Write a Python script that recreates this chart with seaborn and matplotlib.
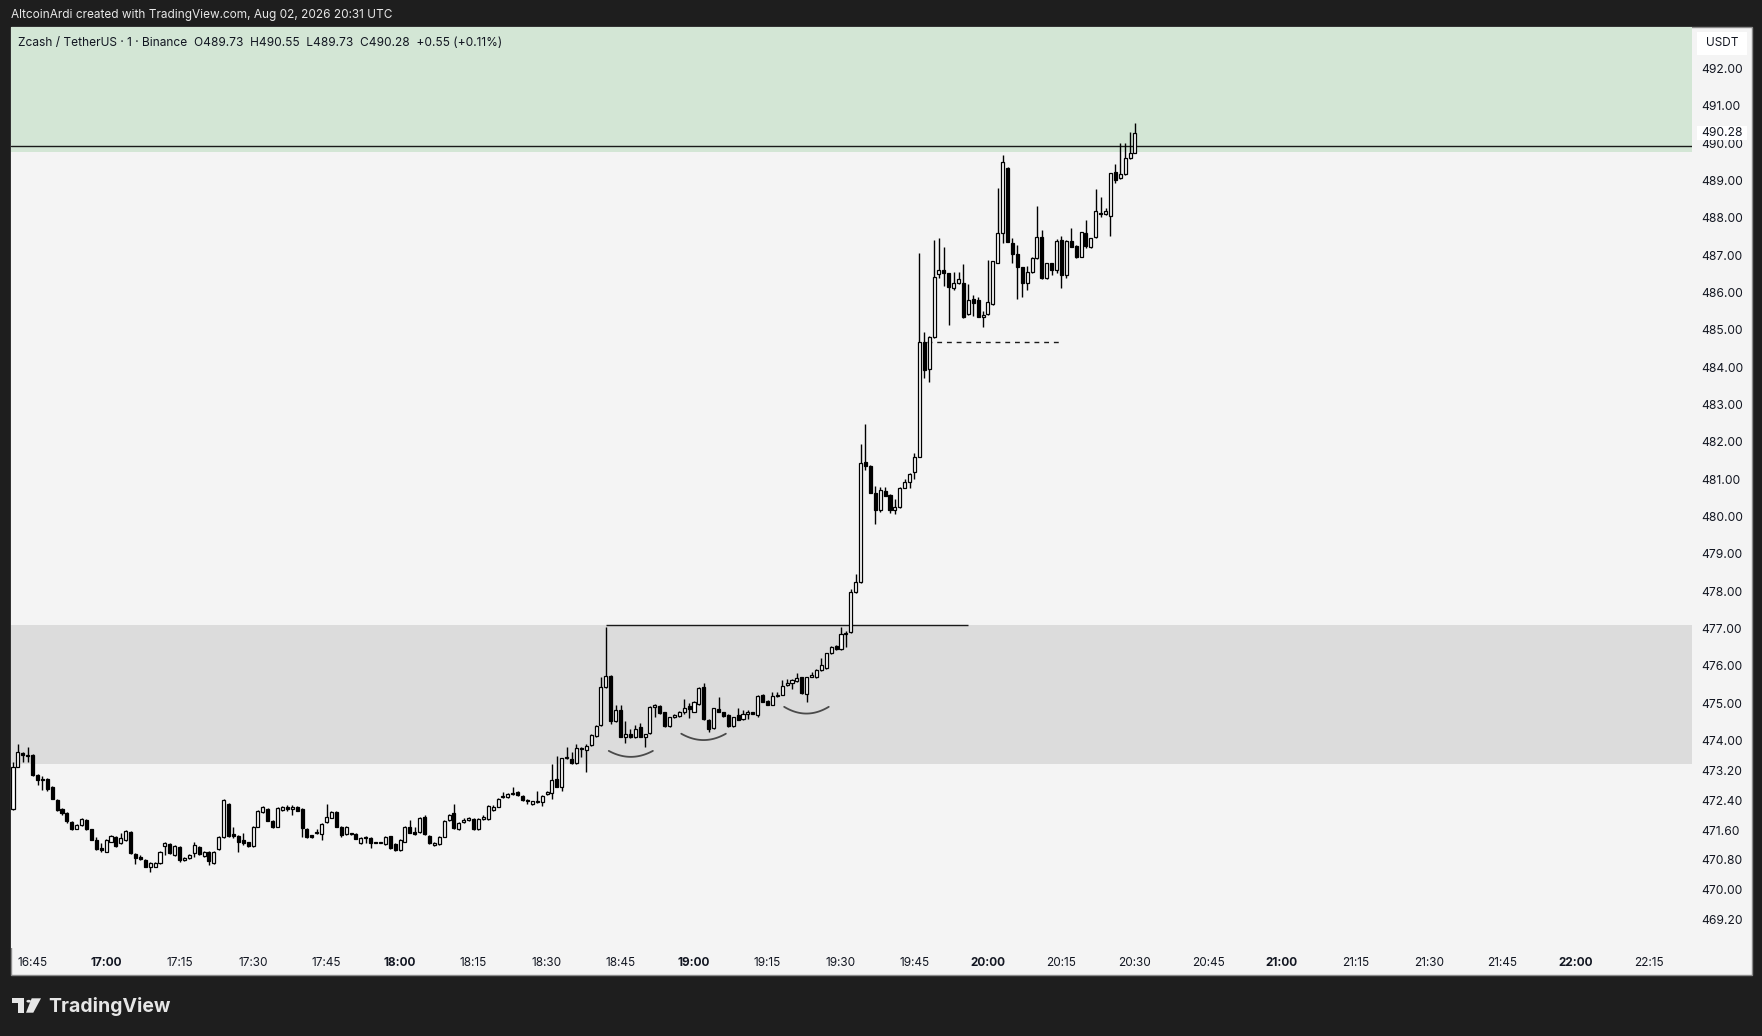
import matplotlib
matplotlib.use("Agg")
import numpy as np
import pandas as pd
import seaborn as sns
from matplotlib import pyplot as plt
from matplotlib import transforms
from matplotlib.patches import Rectangle, Polygon, Circle

# one-minute candles, first one at 16:41 (minutes counted from 16:45)
first_minute = -4

opens = [
    472.16, 473.30, 473.66, 473.60, 473.61, 473.08, 472.96, 472.98, 472.76, 472.41,
    472.16, 472.05, 471.82, 471.64, 471.73, 471.87, 471.62, 471.32, 471.11, 471.02,
    471.29, 471.42, 471.25, 471.32, 471.55, 470.96, 470.89, 470.80, 470.62, 470.62,
    470.71, 471.16, 471.22, 470.93, 471.15, 470.80, 470.84, 470.98, 471.15, 470.91,
    471.02, 470.71, 471.08, 471.41, 472.30, 471.49, 471.44, 471.32, 471.27, 471.17,
    471.69, 472.08, 472.17, 471.85, 471.69, 472.14, 472.21, 472.17, 472.23, 472.16,
    471.64, 471.46, 471.51, 471.50, 471.81, 471.93, 472.09, 471.69, 471.49, 471.50,
    471.49, 471.25, 471.42, 471.38, 471.27, 471.26, 471.23, 471.43, 471.23, 471.07,
    471.29, 471.69, 471.54, 471.55, 471.94, 471.44, 471.20, 471.23, 471.42, 471.87,
    472.05, 471.62, 471.82, 471.87, 471.89, 471.62, 471.89, 471.89, 472.14, 472.23,
    472.49, 472.49, 472.57, 472.62, 472.51, 472.41, 472.30, 472.34, 472.34, 472.56,
    472.60, 472.96, 472.76, 473.52, 473.50, 473.39, 473.79, 473.74, 473.88, 474.12,
    474.41, 475.44, 475.72, 474.53, 474.81, 474.10, 474.16, 474.09, 474.37, 474.10,
    474.19, 474.90, 474.93, 474.75, 474.39, 474.63, 474.66, 474.76, 474.92, 474.77,
    474.97, 475.42, 474.55, 474.32, 474.83, 474.75, 474.68, 474.39, 474.68, 474.57,
    474.72, 474.73, 474.68, 475.22, 475.05, 474.96, 475.20, 475.23, 475.48, 475.54,
    475.59, 475.69, 475.24, 475.71, 475.69, 475.89, 475.93, 476.33, 476.53, 476.44,
    476.84, 476.90, 477.97, 478.24, 481.45, 481.35, 480.62, 480.17, 480.68, 480.57,
    480.17, 480.25, 480.77, 480.91, 481.18, 481.60, 484.66, 483.94, 484.80, 486.49,
    486.60, 486.51, 486.13, 486.25, 486.24, 485.42, 485.82, 485.81, 485.33, 485.42,
    485.69, 486.80, 487.60, 489.33, 487.32, 487.02, 486.67, 486.25, 486.54, 486.92,
    487.48, 486.38, 486.78, 486.60, 487.40, 486.47, 487.38, 487.25, 486.96, 487.58,
    487.21, 487.48, 488.12, 488.10, 488.05, 489.22, 489.06, 489.17, 489.59, 489.73,
]
highs = [
    473.41, 473.91, 473.70, 473.82, 473.64, 473.10, 473.05, 473.00, 472.78, 472.43,
    472.18, 472.07, 471.84, 471.76, 471.92, 471.89, 471.64, 471.41, 471.25, 471.35,
    471.47, 471.44, 471.53, 471.59, 471.57, 470.98, 470.93, 470.82, 470.74, 470.74,
    471.05, 471.29, 471.25, 471.20, 471.17, 470.89, 470.96, 471.28, 471.17, 471.05,
    471.04, 471.05, 471.43, 472.44, 472.33, 471.67, 471.46, 471.51, 471.29, 471.71,
    472.13, 472.25, 472.19, 471.87, 472.21, 472.24, 472.27, 472.26, 472.25, 472.18,
    471.66, 471.48, 471.63, 471.78, 472.29, 472.11, 472.11, 471.71, 471.70, 471.52,
    471.51, 471.41, 471.44, 471.40, 471.29, 471.29, 471.44, 471.45, 471.25, 471.36,
    471.71, 471.87, 471.67, 471.94, 472.00, 471.46, 471.27, 471.43, 471.86, 472.03,
    472.29, 471.82, 471.91, 471.94, 471.91, 471.91, 471.99, 472.28, 472.26, 472.45,
    472.62, 472.60, 472.74, 472.64, 472.53, 472.43, 472.39, 472.64, 472.53, 472.65,
    473.37, 473.57, 473.54, 473.82, 473.70, 473.90, 473.82, 473.91, 474.16, 474.42,
    475.71, 477.05, 475.75, 474.95, 474.96, 474.52, 474.30, 474.40, 474.46, 474.18,
    474.92, 474.98, 474.95, 474.77, 474.64, 474.72, 474.78, 475.10, 475.00, 475.06,
    475.42, 475.53, 474.57, 474.88, 475.15, 474.77, 474.70, 474.64, 474.88, 474.81,
    474.81, 474.77, 475.22, 475.24, 475.07, 475.30, 475.30, 475.62, 475.64, 475.64,
    475.80, 475.71, 475.71, 475.82, 475.90, 476.20, 476.35, 476.53, 476.55, 477.03,
    476.92, 478.06, 478.46, 481.94, 482.48, 481.37, 480.82, 480.78, 480.78, 480.60,
    480.48, 480.79, 481.00, 481.16, 481.69, 487.05, 484.95, 484.82, 487.41, 487.45,
    487.23, 486.53, 486.55, 486.55, 486.76, 486.23, 485.93, 485.87, 485.49, 486.87,
    486.85, 488.79, 489.68, 489.35, 487.45, 487.27, 486.69, 486.71, 486.96, 488.32,
    487.67, 486.80, 486.80, 487.43, 487.50, 487.40, 487.72, 487.27, 487.63, 487.94,
    487.47, 488.76, 488.55, 488.25, 489.21, 489.43, 490.01, 490.00, 490.30, 490.55,
]
lows = [
    472.14, 473.28, 473.43, 473.41, 473.06, 472.80, 472.67, 472.64, 472.42, 472.10,
    471.99, 471.80, 471.60, 471.62, 471.71, 471.60, 471.32, 471.07, 471.02, 471.00,
    471.27, 471.15, 471.22, 471.30, 470.96, 470.68, 470.79, 470.60, 470.47, 470.60,
    470.69, 470.93, 470.95, 470.91, 470.75, 470.78, 470.82, 470.89, 470.93, 470.89,
    470.65, 470.69, 471.06, 471.38, 471.42, 471.38, 471.00, 471.20, 471.15, 471.15,
    471.67, 472.06, 471.83, 471.65, 471.67, 472.12, 472.12, 471.99, 472.10, 471.42,
    471.39, 471.38, 471.49, 471.34, 471.79, 471.91, 471.67, 471.42, 471.47, 471.47,
    471.35, 471.23, 471.25, 471.11, 471.24, 471.24, 471.21, 471.09, 471.05, 471.05,
    471.27, 471.51, 471.48, 471.53, 471.48, 471.23, 471.18, 471.21, 471.40, 471.85,
    471.63, 471.60, 471.80, 471.85, 471.60, 471.60, 471.87, 471.87, 472.12, 472.21,
    472.46, 472.47, 472.55, 472.51, 472.39, 472.31, 472.28, 472.32, 472.25, 472.54,
    472.42, 472.74, 472.64, 473.50, 473.37, 473.37, 473.55, 473.16, 473.86, 474.10,
    474.39, 475.40, 474.43, 474.50, 474.08, 473.94, 474.06, 474.07, 474.08, 473.83,
    474.17, 474.63, 474.72, 474.37, 474.37, 474.61, 474.64, 474.72, 474.59, 474.75,
    474.95, 474.56, 474.23, 474.30, 474.75, 474.63, 474.37, 474.37, 474.54, 474.55,
    474.57, 474.70, 474.63, 475.02, 474.94, 474.94, 475.17, 475.21, 475.45, 475.37,
    475.57, 475.24, 475.04, 475.69, 475.67, 475.87, 475.91, 476.31, 476.42, 476.42,
    476.49, 476.87, 477.95, 478.22, 481.25, 480.62, 479.79, 480.13, 480.54, 480.08,
    480.06, 480.23, 480.75, 480.75, 480.99, 481.58, 483.70, 483.61, 484.78, 486.38,
    486.16, 485.13, 486.07, 486.22, 485.31, 485.40, 485.37, 485.33, 485.08, 485.40,
    485.67, 486.78, 487.32, 487.34, 486.78, 485.82, 485.89, 486.07, 486.52, 486.90,
    486.36, 486.36, 486.47, 486.51, 486.11, 486.38, 487.21, 486.92, 486.94, 487.18,
    487.19, 487.46, 488.01, 488.08, 487.50, 488.94, 489.04, 489.15, 489.57, 489.73,
]
closes = [
    473.30, 473.70, 473.60, 473.57, 473.08, 472.93, 472.93, 472.69, 472.44, 472.14,
    472.05, 471.83, 471.64, 471.73, 471.89, 471.62, 471.34, 471.09, 471.07, 471.32,
    471.44, 471.17, 471.38, 471.57, 470.98, 470.84, 470.82, 470.62, 470.71, 470.71,
    471.02, 471.25, 470.98, 471.18, 470.80, 470.86, 470.93, 471.19, 470.96, 471.02,
    470.78, 471.02, 471.41, 472.41, 471.44, 471.44, 471.29, 471.25, 471.17, 471.69,
    472.11, 472.21, 471.85, 471.67, 472.19, 472.21, 472.16, 472.23, 472.12, 471.65,
    471.41, 471.41, 471.52, 471.76, 471.94, 472.09, 471.69, 471.47, 471.67, 471.49,
    471.37, 471.39, 471.38, 471.25, 471.26, 471.27, 471.42, 471.13, 471.07, 471.34,
    471.69, 471.53, 471.50, 471.92, 471.50, 471.25, 471.25, 471.41, 471.84, 472.01,
    471.65, 471.80, 471.86, 471.91, 471.62, 471.89, 471.96, 472.25, 472.23, 472.42,
    472.51, 472.57, 472.58, 472.53, 472.41, 472.38, 472.37, 472.39, 472.51, 472.62,
    472.94, 472.76, 473.52, 473.53, 473.39, 473.81, 473.77, 473.86, 474.14, 474.39,
    475.44, 475.72, 474.53, 474.81, 474.10, 474.16, 474.08, 474.31, 474.10, 474.16,
    474.90, 474.96, 474.74, 474.39, 474.62, 474.69, 474.75, 474.88, 474.85, 475.04,
    475.40, 474.58, 474.30, 474.86, 474.77, 474.65, 474.39, 474.62, 474.56, 474.72,
    474.73, 474.72, 475.20, 475.04, 474.96, 475.20, 475.22, 475.47, 475.54, 475.61,
    475.67, 475.26, 475.69, 475.75, 475.88, 476.02, 476.33, 476.51, 476.44, 476.84,
    476.89, 477.97, 478.24, 481.42, 481.36, 480.64, 480.17, 480.71, 480.56, 480.17,
    480.26, 480.75, 480.93, 481.14, 481.58, 484.66, 483.92, 484.80, 486.41, 486.60,
    486.51, 486.14, 486.24, 486.35, 485.35, 485.81, 485.73, 485.35, 485.40, 485.75,
    486.83, 487.60, 489.50, 487.36, 487.02, 486.69, 486.24, 486.54, 486.91, 487.48,
    486.38, 486.78, 486.60, 487.38, 486.47, 487.38, 487.23, 486.96, 487.61, 487.25,
    487.45, 488.18, 488.10, 488.18, 489.19, 489.00, 489.18, 489.59, 489.73, 490.28,
]

time_ticks = list(range(0, 331, 15))
time_labels = ['16:45', '17:00', '17:15', '17:30', '17:45', '18:00', '18:15', '18:30',
               '18:45', '19:00', '19:15', '19:30', '19:45', '20:00', '20:15', '20:30',
               '20:45', '21:00', '21:15', '21:30', '21:45', '22:00', '22:15']
price_ticks = [469.2, 470.0, 470.8, 471.6, 472.4, 473.2, 474, 475, 476, 477, 478, 479,
               480, 481, 482, 483, 484, 485, 486, 487, 488, 489, 490, 491, 492]

last_price = 490.28
supply_zone = (489.77, 494.0)
demand_zone = (473.36, 477.09)
zone_line = 489.93
breakout_line = (477.10, 117, 191)      # price, from minute, to minute
dashed_line = (484.66, 182.6, 210.3)
# (start minute, end minute, price at ends, price at bottom)
arcs = [(117.6, 126.6, 473.72, 473.56),
        (132.4, 141.5, 474.18, 474.01),
        (153.4, 162.5, 474.90, 474.72)]

df = pd.DataFrame({'open': opens, 'high': highs, 'low': lows, 'close': closes})
df['minute'] = np.arange(len(df)) + first_minute
df['up'] = df['close'] >= df['open']
df['body_low'] = df[['open', 'close']].min(axis=1)
df['body_h'] = (df['close'] - df['open']).abs().clip(lower=0.03)

sns.set_style("white")
plt.rcParams['font.family'] = ['Inter', 'DejaVu Sans']

W, H = 1762, 1036
fig = plt.figure(figsize=(W / 100, H / 100), dpi=100, facecolor='#1e1e1e')


def fx(px):
    return px / W


def fy(py):
    return 1 - py / H


# light chart panel
fig.patches.append(Rectangle((fx(11), fy(975)), fx(1752) - fx(11), fy(27) - fy(975),
                             transform=fig.transFigure, facecolor='#f4f4f4',
                             edgecolor='#8a8a8a', lw=1, zorder=-5))

ax = fig.add_axes([fx(11), fy(948), fx(1692) - fx(11), fy(27) - fy(948)])
ax.set_facecolor('#f4f4f4')
for s in ax.spines.values():
    s.set_visible(False)
ax.set_xlim(-4.41, 338.7)
ax.set_ylim(468.44, 493.11)

ax.axhspan(*supply_zone, color='#d3e6d5', zorder=0, lw=0)
ax.axhspan(*demand_zone, color='#dcdcdc', zorder=0, lw=0)
ax.axhline(zone_line, color='#1a1a1a', lw=1.0, zorder=1)
ax.hlines(breakout_line[0], breakout_line[1], breakout_line[2], color='#1a1a1a', lw=1.0, zorder=1)
ax.hlines(dashed_line[0], dashed_line[1], dashed_line[2], color='#1a1a1a', lw=1.0,
          linestyles=(0, (3.5, 3.5)), zorder=1)

for x0, x1, y_end, y_bot in arcs:
    t = np.linspace(-1, 1, 60)
    xs = (x0 + x1) / 2 + t * (x1 - x0) / 2
    ys = y_bot + (y_end - y_bot) * t ** 2
    ax.plot(xs, ys, color='#4a4a4a', lw=1.3, zorder=2)

ax.vlines(df['minute'], df['low'], df['high'], color='black', lw=1.0, zorder=3)
up = df[df['up']]
dn = df[~df['up']]
ax.bar(up['minute'], up['body_h'], bottom=up['body_low'], width=0.62,
       facecolor='white', edgecolor='black', linewidth=0.9, zorder=4)
ax.bar(dn['minute'], dn['body_h'], bottom=dn['body_low'], width=0.62,
       facecolor='black', edgecolor='black', linewidth=0.9, zorder=4)

ax.yaxis.tick_right()
ax.set_yticks(price_ticks)
ax.set_yticklabels([f'{p:.2f}' for p in price_ticks])
ax.tick_params(axis='y', length=0, pad=6.5, labelsize=8.7, labelcolor='#131722')
ax.set_xticks(time_ticks)
ax.set_xticklabels(time_labels)
ax.tick_params(axis='x', length=0, pad=6.5, labelsize=8.5, labelcolor='#131722')
for lab in ax.get_xticklabels():
    if lab.get_text().endswith(':00'):
        lab.set_fontweight('bold')
ax.grid(False)

# last price label and currency box on the price scale
blend = transforms.blended_transform_factory(fig.transFigure, ax.transData)
fig.patches.append(Rectangle((fx(1697), last_price - 0.19), fx(1747) - fx(1697), 0.38,
                             transform=blend, facecolor='white', edgecolor='none', zorder=5))
fig.text(fx(1722), last_price, f'{last_price:.2f}', transform=blend, ha='center', va='center',
         fontsize=8.7, color='#131722', zorder=6)
fig.patches.append(Rectangle((fx(1697), fy(55)), fx(1747) - fx(1697), fy(32) - fy(55),
                             transform=fig.transFigure, facecolor='white', edgecolor='none', zorder=5))
fig.text(fx(1722), fy(43.5), 'USDT', ha='center', va='center', fontsize=8.5,
         color='#131722', zorder=6)

fig.text(fx(11), fy(15), 'AltcoinArdi created with TradingView.com, Aug 02, 2026 20:31 UTC',
         ha='left', va='center', fontsize=8.5, color='#e8e8e8')
fig.text(fx(18), fy(42.7),
         'Zcash / TetherUS · 1 · Binance  O489.73  H490.55  L489.73  C490.28  +0.55 (+0.11%)',
         ha='left', va='center', fontsize=8.58, color='#131722')

# TradingView logo
logo = '#e6e6e6'
fig.patches.append(Rectangle((fx(12.3), fy(1003.3)), fx(24) - fx(12.3), fy(998.3) - fy(1003.3),
                             transform=fig.transFigure, facecolor=logo, edgecolor='none'))
fig.patches.append(Rectangle((fx(18.3), fy(1012.7)), fx(24) - fx(18.3), fy(998.3) - fy(1012.7),
                             transform=fig.transFigure, facecolor=logo, edgecolor='none'))
fig.patches.append(Circle((fx(28.7), fy(1001.2)), 2.3 / W, transform=fig.transFigure,
                          facecolor=logo, edgecolor='none'))
fig.patches.append(Polygon([(fx(31.7), fy(998.3)), (fx(41), fy(998.3)), (fx(33.3), fy(1012.7)),
                            (fx(26), fy(1012.7))], closed=True, transform=fig.transFigure,
                           facecolor=logo, edgecolor='none'))
fig.text(fx(48), fy(1006), 'TradingView', ha='left', va='center', fontsize=14,
         fontweight='bold', color=logo)

fig.savefig('out.png', dpi=100, facecolor=fig.get_facecolor())
